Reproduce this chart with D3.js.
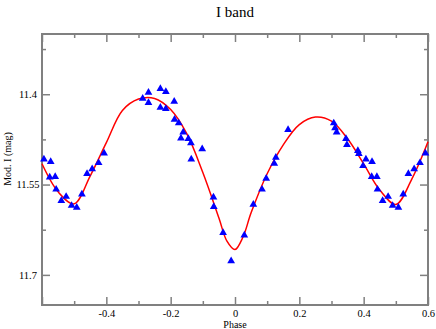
<!DOCTYPE html>
<html>
<head>
<meta charset="utf-8">
<script src="https://cdn.jsdelivr.net/npm/d3@7"></script>
<style>
  body { margin: 0; background: #fff; }
  svg { display: block; font-family: "Liberation Serif", "DejaVu Serif", serif; }
</style>
</head>
<body>
<div id="chart"></div>
<script>
// observed points, phase and I magnitude
var obsPhase = [
  -0.594, -0.573, -0.576, -0.559, -0.556, -0.525, -0.540, -0.508, -0.492, -0.476,
  -0.460, -0.444, -0.424, -0.407, -0.287, -0.269, -0.269, -0.232, -0.215, -0.189,
  -0.232, -0.215, -0.188, -0.175, -0.161, -0.168, -0.145, -0.137, -0.102, -0.136,
  -0.067, -0.066, -0.037, -0.012, 0.029, 0.057, 0.084, 0.097, 0.122, 0.127,
  0.165, 0.307, 0.311, 0.316, 0.345, 0.348, 0.382, 0.385, 0.407, 0.426,
  0.398, 0.425, 0.441, 0.443, 0.476, 0.459, 0.490, 0.508, 0.523, 0.539,
  0.557, 0.575, 0.592
];
var obsMag = [
  11.508, 11.512, 11.538, 11.537, 11.558, 11.570, 11.577, 11.585, 11.588, 11.566,
  11.532, 11.524, 11.514, 11.498, 11.407, 11.397, 11.414, 11.391, 11.396, 11.412,
  11.422, 11.424, 11.442, 11.448, 11.463, 11.473, 11.474, 11.481, 11.491, 11.508,
  11.571, 11.587, 11.630, 11.677, 11.634, 11.583, 11.558, 11.540, 11.515, 11.505,
  11.459, 11.448, 11.456, 11.463, 11.474, 11.484, 11.494, 11.499, 11.508, 11.512,
  11.519, 11.537, 11.537, 11.558, 11.570, 11.577, 11.585, 11.588, 11.566, 11.532,
  11.524, 11.514, 11.498
];

// fitted light curve
var fitPhase = [
  -0.60, -0.55, -0.50, -0.45, -0.40, -0.35, -0.30, -0.25, -0.20, -0.15,
  -0.10, -0.05, -0.025, 0.00, 0.025, 0.05, 0.10, 0.15, 0.20, 0.25,
  0.30, 0.35, 0.40, 0.45, 0.50, 0.55, 0.60
];
var fitMag = [
  11.5155, 11.562, 11.582, 11.5355, 11.4805, 11.427, 11.408, 11.407, 11.4255, 11.4655,
  11.530, 11.6055, 11.644, 11.658, 11.637, 11.597, 11.532, 11.484, 11.4505, 11.438,
  11.4447, 11.474, 11.5155, 11.559, 11.583, 11.5405, 11.479
];

var xMajor = [-0.6, -0.4, -0.2, 0, 0.2, 0.4, 0.6];
var xMajorLabels = ["", "-0.4", "-0.2", "0", "0.2", "0.4", "0.6"];
var xMinor = [-0.5, -0.3, -0.1, 0.1, 0.3, 0.5];
var yMajor = [11.4, 11.55, 11.7];
var yMajorLabels = ["11.4", "11.55", "11.7"];
var yMinor = [11.325, 11.475, 11.625];

var w = 436;
var h = 329;
var plotLeft = 42, plotRight = 428, plotTop = 34, plotBottom = 305;

var svg = d3.select("#chart")
  .append("svg")
  .attr("width", w)
  .attr("height", h);

var xScale = d3.scaleLinear()
  .domain([-0.6, 0.6])
  .range([plotLeft, plotRight]);

var yScale = d3.scaleLinear()
  .domain([11.3, 11.75])
  .range([plotTop, plotBottom]);

var axisColor = "#808080";

function styleAxis(g) {
  g.attr("font-family", "Liberation Serif, serif");
  g.select(".domain").remove();
  g.selectAll(".tick line")
    .attr("stroke", axisColor)
    .attr("stroke-width", 1.5);
  g.selectAll(".tick text")
    .attr("fill", "#000")
    .style("font-size", "10.5px");
}

// bottom
svg.append("g")
  .attr("transform", "translate(0," + plotBottom + ")")
  .call(d3.axisBottom(xScale).tickValues(xMajor).tickSize(-8).tickPadding(5)
    .tickFormat(function(d, i) { return xMajorLabels[i]; }))
  .call(styleAxis);
svg.append("g")
  .attr("transform", "translate(0," + plotBottom + ")")
  .call(d3.axisBottom(xScale).tickValues(xMinor).tickSize(-4).tickFormat(""))
  .call(styleAxis);

// top
svg.append("g")
  .attr("transform", "translate(0," + plotTop + ")")
  .call(d3.axisTop(xScale).tickValues(xMajor).tickSize(-8).tickFormat(""))
  .call(styleAxis);
svg.append("g")
  .attr("transform", "translate(0," + plotTop + ")")
  .call(d3.axisTop(xScale).tickValues(xMinor).tickSize(-4).tickFormat(""))
  .call(styleAxis);

// left, labels centred like the original
svg.append("g")
  .attr("transform", "translate(" + plotLeft + ",0)")
  .call(d3.axisLeft(yScale).tickValues(yMajor).tickSize(-8).tickPadding(14)
    .tickFormat(function(d, i) { return yMajorLabels[i]; }))
  .call(styleAxis)
  .selectAll(".tick text")
    .attr("text-anchor", "middle");
svg.append("g")
  .attr("transform", "translate(" + plotLeft + ",0)")
  .call(d3.axisLeft(yScale).tickValues(yMinor).tickSize(-4).tickFormat(""))
  .call(styleAxis);

// right
svg.append("g")
  .attr("transform", "translate(" + plotRight + ",0)")
  .call(d3.axisRight(yScale).tickValues(yMajor).tickSize(-8).tickFormat(""))
  .call(styleAxis);
svg.append("g")
  .attr("transform", "translate(" + plotRight + ",0)")
  .call(d3.axisRight(yScale).tickValues(yMinor).tickSize(-4).tickFormat(""))
  .call(styleAxis);

// frame
svg.append("rect")
  .attr("x", plotLeft)
  .attr("y", plotTop)
  .attr("width", plotRight - plotLeft)
  .attr("height", plotBottom - plotTop)
  .attr("fill", "none")
  .attr("stroke", axisColor)
  .attr("stroke-width", 2);

var plot = svg.append("g");

// fit line
var line = d3.line()
  .x(function(d, i) { return xScale(fitPhase[i]); })
  .y(function(d) { return yScale(d); })
  .curve(d3.curveCatmullRom.alpha(0.5));

plot.append("path")
  .datum(fitMag)
  .attr("d", line)
  .attr("fill", "none")
  .attr("stroke", "#ff0000")
  .attr("stroke-width", 1.5);

// observations
var tri = d3.symbol().type(d3.symbolTriangle).size(26);

plot.selectAll("path.obs")
  .data(obsMag)
  .enter()
  .append("path")
  .attr("class", "obs")
  .attr("d", tri)
  .attr("transform", function(d, i) {
    return "translate(" + xScale(obsPhase[i]) + "," + yScale(d) + ")";
  })
  .attr("fill", "#0000ff");

// labels
svg.append("text")
  .attr("x", 235)
  .attr("y", 17)
  .attr("text-anchor", "middle")
  .style("font-size", "15px")
  .text("I band");

svg.append("text")
  .attr("x", 235)
  .attr("y", 328)
  .attr("text-anchor", "middle")
  .style("font-size", "10px")
  .text("Phase");

svg.append("text")
  .attr("transform", "translate(11,159) rotate(-90)")
  .attr("text-anchor", "middle")
  .style("font-size", "10px")
  .text("Mod. I (mag)");
</script>
</body>
</html>
